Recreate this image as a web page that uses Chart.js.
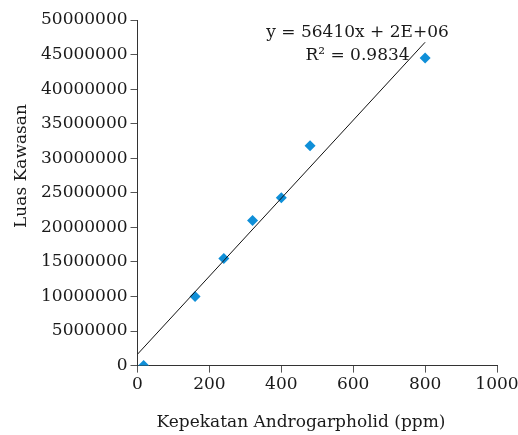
<!DOCTYPE html>
<html>
<head>
<meta charset="utf-8">
<script src="https://cdn.jsdelivr.net/npm/chart.js@4/dist/chart.umd.min.js"></script>
<style>
  html, body { margin: 0; padding: 0; background: #fff; }
  #wrap { width: 518px; height: 435px; }
</style>
</head>
<body>
<div id="wrap"><canvas id="chart"></canvas></div>
<script>
const concentration = [17, 160, 240, 320, 400, 480, 800]
const peakArea = [0, 10000000, 15500000, 21000000, 24300000, 31800000, 44500000]
const trendX = [0, 800]
const trendY = [1650000, 46780000]
const equationText = 'y = 56410x + 2E+06'
const r2Text = 'R\u00b2 = 0.9834'
const xTitle = 'Kepekatan Androgarpholid (ppm)'
const yTitle = 'Luas Kawasan'

const serif = '"DejaVu Serif", "Liberation Serif", serif'

const labelsPlugin = {
    id: 'labels',
    afterDraw(chart) {
        const ctx = chart.ctx
        const xs = chart.scales.x
        const ys = chart.scales.y
        ctx.save()
        ctx.fillStyle = '#1a1a1a'
        ctx.font = '17px ' + serif
        ctx.textAlign = 'center'
        ctx.textBaseline = 'middle'
        ctx.fillText(equationText, xs.getPixelForValue(612), ys.getPixelForValue(48200000))
        ctx.fillText(r2Text, xs.getPixelForValue(612), ys.getPixelForValue(44900000))

        ctx.fillText(xTitle, 301, 423)

        ctx.translate(22, 166)
        ctx.rotate(-Math.PI / 2)
        ctx.fillText(yTitle, 0, 0)
        ctx.restore()
    }
}

const points = concentration.map((c, i) => ({ x: c, y: peakArea[i] }))
const trend = trendX.map((t, i) => ({ x: t, y: trendY[i] }))

new Chart(document.getElementById('chart'), {
    type: 'scatter',
    data: {
        datasets: [
            {
                type: 'line',
                data: trend,
                borderColor: '#111',
                borderWidth: 1,
                pointRadius: 0,
                fill: false
            },
            {
                data: points,
                pointStyle: 'rectRot',
                pointRadius: 5.5,
                pointBackgroundColor: '#0f8fd8',
                pointBorderColor: '#0f8fd8',
                pointBorderWidth: 0
            }
        ]
    },
    options: {
        responsive: true,
        maintainAspectRatio: false,
        animation: false,
        layout: { padding: { left: 38, top: 20, right: 21, bottom: 38 } },
        plugins: {
            legend: { display: false },
            tooltip: { enabled: false }
        },
        scales: {
            x: {
                type: 'linear',
                min: 0,
                max: 1000,
                afterFit: scale => { scale.paddingRight = 0 },
                ticks: {
                    stepSize: 200, color: '#1a1a1a', font: { family: serif, size: 17 }, padding: 2,
                    callback: v => String(v)
                },
                grid: { drawOnChartArea: false, tickLength: 7, color: '#555' },
                border: { color: '#333', width: 1 }
            },
            y: {
                min: 0,
                max: 50000000,
                ticks: {
                    stepSize: 5000000, color: '#1a1a1a', font: { family: serif, size: 17 }, padding: 3,
                    callback: v => String(v)
                },
                grid: { drawOnChartArea: false, tickLength: 7, color: '#555' },
                border: { color: '#333', width: 1 }
            }
        }
    },
    plugins: [labelsPlugin]
})
</script>
</body>
</html>
